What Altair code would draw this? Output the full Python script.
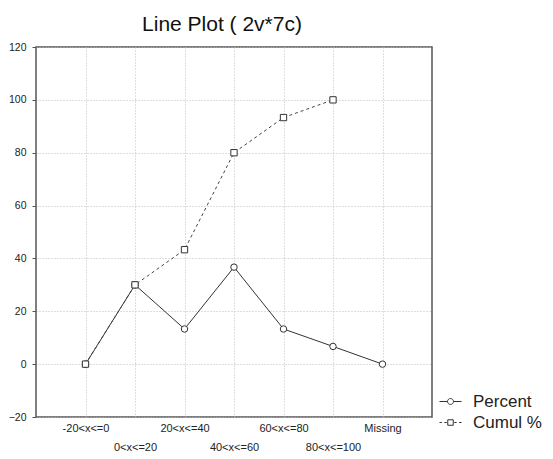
import altair as alt
import pandas as pd

categories = ["-20<x<=0", "0<x<=20", "20<x<=40", "40<x<=60", "60<x<=80", "80<x<=100", "Missing"]
percent = [0.0, 30.0, 13.3, 36.7, 13.3, 6.7, 0.0]
cumul = [0.0, 30.0, 43.3, 80.0, 93.3, 100.0, None]
series_names = ["Percent", "Cumul %"]

rows = []
for i, c in enumerate(categories):
    rows.append({"idx": i + 1, "cat": c, "series": "Percent", "value": percent[i]})
    if cumul[i] is not None:
        rows.append({"idx": i + 1, "cat": c, "series": "Cumul %", "value": cumul[i]})
df = pd.DataFrame(rows)

lab_js = "[" + ",".join("'" + c + "'" for c in categories) + "]"
label_expr = (
    f"(datum.value % 2 == 1) ? [{lab_js}[datum.value-1], ''] : ['', {lab_js}[datum.value-1]]"
)

x = alt.X(
    "idx:Q",
    scale=alt.Scale(domain=[0, 8], nice=False, zero=False),
    axis=alt.Axis(
        values=list(range(1, 8)),
        labelExpr=label_expr,
        labelOverlap=False,
        labelBound=False,
        title=None,
        grid=True,
        gridColor="#bdbdbd",
        gridDash=[1, 2],
        ticks=False,
        domain=False,
        labelFont="Liberation Sans",
        labelFontSize=11,
        labelColor="#222",
        labelPadding=11,
        labelBaseline="middle",
        labelLineHeight=19,
    ),
)
y = alt.Y(
    "value:Q",
    scale=alt.Scale(domain=[-20, 120], nice=False),
    axis=alt.Axis(
        values=list(range(-20, 121, 20)),
        title=None,
        grid=True,
        gridColor="#bdbdbd",
        gridDash=[1, 2],
        tickSize=4,
        tickColor="#555",
        domain=False,
        labelFont="Liberation Sans",
        labelFontSize=10.5,
        labelColor="#222",
        labelPadding=6,
    ),
)

percent_path = "M-1,0L-0.27,0M0.27,0L1,0M0.27,0A0.27,0.27 0 1,1 -0.27,0A0.27,0.27 0 1,1 0.27,0"
cumul_path = ("M-1,0L-0.78,0M-0.56,0L-0.34,0M0.34,0L0.56,0M0.78,0L1,0"
              "M-0.25,-0.25L0.25,-0.25L0.25,0.25L-0.25,0.25Z")

line_p = alt.Chart(df[df.series == "Percent"]).mark_line(color="#333", strokeWidth=1).encode(x=x, y=y)
line_c = alt.Chart(df[df.series == "Cumul %"]).mark_line(
    color="#444", strokeWidth=1, strokeDash=[3, 3]
).encode(x=x, y=y)

pts_percent = alt.Chart(df[df.series == "Percent"]).mark_point(
    shape="circle", size=42, filled=True, fill="white", stroke="#333", strokeWidth=1, opacity=1
).encode(x=x, y=y)
pts_cumul = alt.Chart(df[df.series == "Cumul %"]).mark_point(
    shape="square", size=40, filled=True, fill="white", stroke="#333", strokeWidth=1, opacity=1
).encode(x=x, y=y)

legend_layer = alt.Chart(df[df.idx == 1]).mark_point(
    filled=False, opacity=0, color="#333"
).encode(
    x=x,
    y=y,
    shape=alt.Shape(
        "series:N",
        scale=alt.Scale(domain=series_names, range=[percent_path, cumul_path]),
        legend=alt.Legend(
            title=None,
            orient="none",
            legendX=403,
            legendY=343,
            symbolSize=484,
            symbolStrokeColor="#333",
            symbolStrokeWidth=1,
            symbolFillColor="white",
            symbolOpacity=1,
            labelFont="Liberation Sans",
            labelFontSize=17,
            labelColor="#222",
            labelOffset=11,
            rowPadding=1,
            padding=0,
        ),
    ),
)

chart = alt.layer(line_p, line_c, pts_percent, pts_cumul, legend_layer).properties(
    width=396,
    height=370,
    title=alt.TitleParams(
        "Line Plot ( 2v*7c)",
        font="Liberation Sans",
        fontSize=21,
        fontWeight="normal",
        color="#111",
        anchor="middle",
        offset=7,
        dx=-12,
    ),
    autosize=alt.AutoSizeParams(type="none"),
    padding={"left": 28, "top": 39, "right": 113, "bottom": 34},
).configure_view(stroke="#555", strokeWidth=1.5)

chart.save("out.html", embed_options={"renderer": "svg", "actions": False})
